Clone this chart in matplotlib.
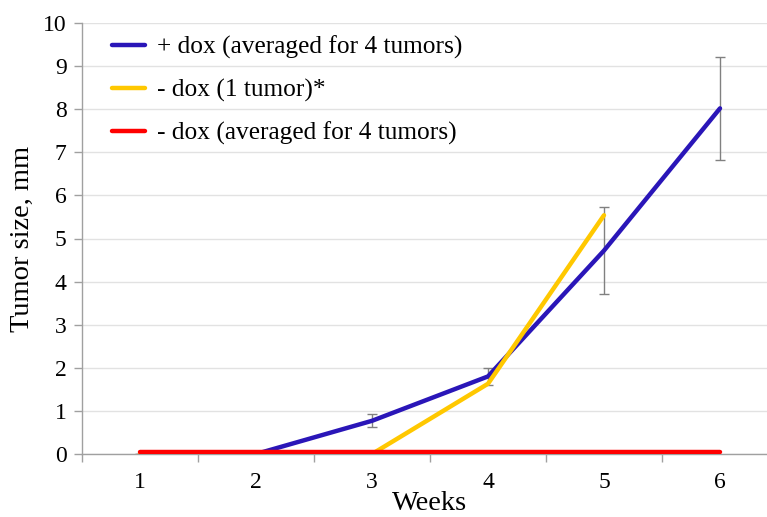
import matplotlib.pyplot as plt
import numpy as np

weeks = ["1", "2", "3", "4", "5", "6"]
plus_dox = [0.0, 0.0, 0.77, 1.8, 4.72, 8.02]
plus_dox_err = [0.0, 0.0, 0.15, 0.2, 1.0, 1.2]
minus_dox_one = [0.0, 0.0, 0.0, 1.63, 5.54, np.nan]
minus_dox_avg = [0.04, 0.04, 0.04, 0.04, 0.04, 0.04]

labels = [
    "+ dox (averaged for 4 tumors)",
    "- dox (1 tumor)*",
    "- dox (averaged for 4 tumors)",
]

plt.rcParams["font.family"] = ["Liberation Serif", "DejaVu Serif"]

fig = plt.figure(figsize=(7.67, 5.17), dpi=100)
ax = fig.add_axes([82 / 767, 63 / 517, 696 / 767, 431 / 517])

x = np.arange(len(weeks))

ax.errorbar(x, plus_dox, yerr=plus_dox_err, fmt="none", ecolor="#808080",
            elinewidth=1.0, capsize=3.5, capthick=1.0, zorder=2)
ax.plot(x, plus_dox, color="#2a16b8", lw=3.2, solid_capstyle="round",
        label=labels[0], zorder=3)
ax.plot(x, minus_dox_one, color="#ffc800", lw=3.2, solid_capstyle="round",
        label=labels[1], zorder=4)
ax.plot(x, minus_dox_avg, color="#ff0000", lw=3.2, solid_capstyle="round",
        label=labels[2], zorder=5)

ax.set_xlim(-0.5, len(weeks) - 0.5)
ax.set_ylim(0, 10)
ax.set_yticks(range(0, 11))
ax.set_xticks(x)
ax.set_xticklabels(weeks)
ax.set_xticks(np.arange(-0.5, len(weeks), 1.0), minor=True)

ax.tick_params(axis="x", which="major", length=0, labelsize=17, pad=13)
ax.tick_params(axis="x", which="minor", length=6, color="#a0a0a0", width=1)
ax.tick_params(axis="y", length=6, color="#a0a0a0", width=1, labelsize=17, pad=5)

ax.grid(axis="y", color="#e2e2e2", lw=1)
ax.set_axisbelow(True)
for side in ("top", "right"):
    ax.spines[side].set_visible(False)
for side in ("left", "bottom"):
    ax.spines[side].set_color("#a0a0a0")
    ax.spines[side].set_linewidth(1)

ax.set_ylabel("Tumor size, mm", fontsize=20.5, labelpad=6)
ax.set_xlabel("Weeks", fontsize=20.5, labelpad=-1.5)

ax.legend(loc="upper left", bbox_to_anchor=(0.025, 1.0), frameon=False,
          fontsize=18.3, handlelength=1.3, handletextpad=0.45, labelspacing=0.78,
          borderaxespad=0.1)

fig.savefig("out.png", dpi=100)
